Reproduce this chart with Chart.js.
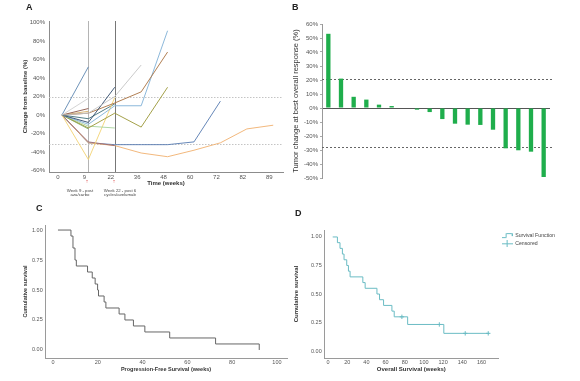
<!DOCTYPE html>
<html><head><meta charset="utf-8">
<script src="https://cdn.jsdelivr.net/npm/chart.js@4.4.1/dist/chart.umd.min.js"></script>
<style>
html,body{margin:0;padding:0;background:#fff;}
body{width:580px;height:381px;position:relative;overflow:hidden;font-family:"Liberation Sans",Arial,sans-serif;}
canvas{position:absolute;}
.lbl{position:absolute;font-weight:bold;color:#222;font-size:9px;line-height:9px;}
.note{position:absolute;font-size:4.3px;line-height:4.6px;color:#444;text-align:center;width:40px;white-space:nowrap;}
.arrow{position:absolute;font-size:5px;line-height:5px;color:#d62828;width:10px;text-align:center;}
</style></head><body>
<canvas id="cA" width="290" height="200" style="left:0;top:0"></canvas>
<canvas id="cB" width="290" height="200" style="left:290px;top:0"></canvas>
<canvas id="cC" width="290" height="181" style="left:0;top:200px"></canvas>
<canvas id="cD" width="290" height="181" style="left:290px;top:200px"></canvas>
<div class="lbl" style="left:26px;top:3px">A</div>
<div class="lbl" style="left:292px;top:3px">B</div>
<div class="lbl" style="left:36px;top:204px">C</div>
<div class="lbl" style="left:295px;top:209px">D</div>
<div class="arrow" style="left:82px;top:179px">↑</div>
<div class="arrow" style="left:109px;top:179px">↑</div>
<div class="note" style="left:60px;top:188.7px">Week 9 - post<br>aza/carbo</div>
<div class="note" style="left:100px;top:188.7px">Week 22 - post 6<br>cycles/avelumab</div>
<script>
// ---------- Panel A data (value at each assessment visit) ----------
const weeksA = [0, 9, 22, 36, 48, 60, 72, 82, 89];
const yTicksA = [-60, -40, -20, 0, 20, 40, 60, 80, 100];
const ptSteel   = [0, 52];
const ptGrey    = [0, 18];
const ptGrey2   = [0, 2, 20, 54];
const ptNavy    = [0, -8, 30];
const ptBrown   = [0, 2, 13, 25, 68];
const ptSky     = [0, -10, 10, 10, 91];
const ptOlive   = [0, -14, 2, -13, 30];
const ptPale    = [0, -12, -14];
const ptGold    = [0, -48, 19];
const ptMauve   = [0, -29, -33];
const ptOrange  = [0, -30, -33, -41, -45, -38, -30, -15, -11];
const ptBlue    = [0, -30, -32, -32, -32, -29, 15];
const ptMaroon  = [0, 7];
const ptTan     = [0, 4];
const ptTeal    = [0, -4, 12];
const ptGreen   = [0, -15];
const refWeekIdxA = [1, 2];          // vertical markers at week 9 and week 22
const refPctA = [20, -31];           // response thresholds

// ---------- Panel B data ----------
const patientsB = ['P1','P2','P3','P4','P5','P6','P7','P8','P9','P10','P11','P12','P13','P14','P15','P16','P17','P18'];
const changeB = [53, 21, 8, 6, 2.4, 1.4, 0, -1.2, -2.9, -7.9, -11.2, -11.9, -12.1, -15.5, -28.8, -30.2, -31.2, -49.3];
const yTicksB = [-50, -40, -30, -20, -10, 0, 10, 20, 30, 40, 50, 60];
const refPctB = [21, -27.6];

// ---------- Panel C data (PFS Kaplan-Meier) ----------
const pfsWeeks = [2.2, 8, 8.9, 9.8, 10.4, 15.4, 17.5, 18.8, 19.9, 20.3, 22.8, 23.6, 29.5, 32.1, 35.9, 41, 52.1, 72.6, 92.1];
const pfsSurv  = [1.00, 0.95, 0.85, 0.75, 0.70, 0.65, 0.60, 0.55, 0.50, 0.45, 0.40, 0.35, 0.30, 0.25, 0.20, 0.15, 0.10, 0.05, 0.00];
const xTicksC = [0, 20, 40, 60, 80, 100];
const survTicks = [0, 0.25, 0.5, 0.75, 1];

// ---------- Panel D data (OS Kaplan-Meier) ----------
const osWeeks = [4.9, 9.8, 12.5, 15, 16.7, 19.5, 21.3, 23, 36.3, 38.7, 51, 53.7, 57.9, 66.6, 69, 83, 120.7, 168];
const osSurv  = [1.00, 0.95, 0.90, 0.85, 0.80, 0.75, 0.70, 0.65, 0.60, 0.55, 0.50, 0.45, 0.40, 0.35, 0.30, 0.233, 0.155, 0.155];
const censWeeks = [77, 116, 143, 167];
const censSurv  = [0.30, 0.233, 0.155, 0.155];
const xTicksD = [0, 20, 40, 60, 80, 100, 120, 140, 160];

// ---------- styling ----------
Chart.defaults.font.family = '"Liberation Sans", Arial, sans-serif';
Chart.defaults.animation = false;
Chart.defaults.responsive = false;
Chart.defaults.devicePixelRatio = 1;
Chart.defaults.plugins.tooltip.enabled = false;

const seriesA = [
  {v: ptGrey2, c: '#c4c4c4'}, {v: ptGrey, c: '#cfcfcf'}, {v: ptSteel, c: '#5d87b1'},
  {v: ptNavy, c: '#2e4a6b'}, {v: ptBrown, c: '#a8703f'}, {v: ptSky, c: '#7fb0d6'},
  {v: ptOlive, c: '#9a9636'}, {v: ptPale, c: '#a7d39b'}, {v: ptGold, c: '#f3d272'},
  {v: ptMauve, c: '#9a6a73'}, {v: ptOrange, c: '#f0b06e'}, {v: ptBlue, c: '#5579b0'},
  {v: ptMaroon, c: '#8a5546'}, {v: ptTan, c: '#d6ae66'}, {v: ptTeal, c: '#3f6f78'},
  {v: ptGreen, c: '#7bb36e'}
];

function refLines(cfg) {
  return {
    id: 'refLines',
    beforeDatasetsDraw(chart) {
      const {ctx, chartArea: a, scales: {x, y}} = chart;
      ctx.save();
      ctx.lineWidth = 1;
      (cfg.vertical || []).forEach(l => {
        const px = Math.round(x.getPixelForValue(l.value)) + 0.5;
        ctx.strokeStyle = l.color; ctx.setLineDash(l.dash || []);
        ctx.beginPath(); ctx.moveTo(px, a.top); ctx.lineTo(px, a.bottom); ctx.stroke();
      });
      (cfg.horizontal || []).forEach(l => {
        const py = Math.round(y.getPixelForValue(l.value)) + 0.5;
        ctx.strokeStyle = l.color; ctx.setLineDash(l.dash || []);
        ctx.beginPath(); ctx.moveTo(a.left, py); ctx.lineTo(a.right + (l.extend || 0), py); ctx.stroke();
      });
      ctx.restore();
    }
  };
}
const tickFont = {size: 6};
const axisCol = '#8c8c8c';

// ---------- Panel A ----------
new Chart(document.getElementById('cA'), {
  type: 'line',
  data: {datasets: seriesA.map(s => ({
    data: s.v.map((val, i) => ({x: i, y: val})),
    borderColor: s.c, borderWidth: 0.9, pointRadius: 0, tension: 0, fill: false
  }))},
  options: {
    layout: {padding: {top: 21, right: 7, bottom: 0, left: 0}},
    plugins: {legend: {display: false}},
    scales: {
      x: {type: 'linear', min: -0.49, max: 8.37,
        afterBuildTicks: s => { s.ticks = weeksA.map((w, i) => ({value: i})); },
        ticks: {callback: v => weeksA[v], font: tickFont, color: '#555', padding: 2, labelOffset: -4, maxRotation: 0, autoSkip: false},
        grid: {display: false, drawTicks: false}, border: {color: axisCol},
        title: {display: true, text: 'Time (weeks)', font: {size: 6, weight: 'bold'}, color: '#333', padding: {top: 0, bottom: 12.7}},
        afterFit: s => { s.height = 28; }},
      y: {min: -61.5, max: 101.5,
        afterBuildTicks: s => { s.ticks = yTicksA.map(v => ({value: v})); },
        ticks: {callback: v => v + '%', font: tickFont, color: '#555', padding: 4},
        grid: {display: false, drawTicks: false}, border: {color: axisCol},
        title: {display: true, text: 'Change from baseline (%)', font: {size: 6, weight: 'bold'}, color: '#333', padding: {top: 21.4, bottom: 0}},
        afterFit: s => { s.width = 49; }}
    }
  },
  plugins: [refLines({
    vertical: [{value: refWeekIdxA[0], color: '#b4b4b4'}, {value: refWeekIdxA[1], color: '#777'}],
    horizontal: refPctA.map(v => ({value: v, color: '#c4c4c4', dash: [1.5, 1.5]}))
  })]
});

// ---------- Panel B ----------
new Chart(document.getElementById('cB'), {
  type: 'bar',
  data: {labels: patientsB, datasets: [{data: changeB, backgroundColor: '#1fae4c', barPercentage: 0.34, categoryPercentage: 1}]},
  options: {
    layout: {padding: {top: 24, right: 30, bottom: 22, left: 0}},
    plugins: {legend: {display: false}},
    scales: {
      x: {display: false, offset: true},
      y: {min: -50, max: 60,
        afterBuildTicks: s => { s.ticks = yTicksB.map(v => ({value: v})); },
        ticks: {callback: v => v + '%', font: tickFont, color: '#555', padding: 2},
        grid: {color: c => (c.tick && c.tick.value === 0) ? '#555' : 'rgba(0,0,0,0)', tickColor: '#aaa', tickLength: 2},
        border: {color: '#999'},
        title: {display: true, text: 'Tumor change at best overall response (%)', font: {size: 7.5}, color: '#333', padding: {top: 1.5, bottom: 0}},
        afterFit: s => { s.width = 32; }}
    }
  },
  plugins: [refLines({horizontal: refPctB.map(v => ({value: v, color: '#666', dash: [2, 2], extend: 3}))})]
});

// ---------- Panel C ----------
new Chart(document.getElementById('cC'), {
  type: 'line',
  data: {datasets: [{data: pfsWeeks.map((t, i) => ({x: t, y: pfsSurv[i]})), stepped: 'before',
    borderColor: '#666', borderWidth: 1, pointRadius: 0, fill: false}]},
  options: {
    layout: {padding: {top: 25, right: 3, bottom: 0, left: 0}},
    plugins: {legend: {display: false}},
    scales: {
      x: {type: 'linear', min: -3.6, max: 104.5,
        afterBuildTicks: s => { s.ticks = xTicksC.map(v => ({value: v})); },
        ticks: {font: {size: 5.5}, color: '#555', padding: 1, maxRotation: 0},
        grid: {display: false, drawTicks: false}, border: {color: '#9a9a9a'},
        title: {display: true, text: 'Progression-Free Survival (weeks)', font: {size: 5.5, weight: 'bold'}, color: '#333', padding: {top: 0, bottom: 8.7}},
        afterFit: s => { s.height = 23; }},
      y: {min: -0.067, max: 1.042,
        afterBuildTicks: s => { s.ticks = survTicks.map(v => ({value: v})); },
        ticks: {callback: v => v.toFixed(2), font: {size: 5.5}, color: '#555', padding: 2.3},
        grid: {display: false, drawTicks: false}, border: {color: '#9a9a9a'},
        title: {display: true, text: 'Cumulative survival', font: {size: 5.5, weight: 'bold'}, color: '#333', padding: {top: 21.7, bottom: 0}},
        afterFit: s => { s.width = 45; }}
    }
  }
});

// ---------- Panel D ----------
const teal = '#6bbcc4';
function icon(draw) {
  const c = document.createElement('canvas'); c.width = 11; c.height = 7;
  const g = c.getContext('2d'); g.strokeStyle = teal; g.lineWidth = 1; g.beginPath(); draw(g); g.stroke();
  return c;
}
const stepIcon = icon(g => { g.moveTo(0, 5.5); g.lineTo(4.5, 5.5); g.lineTo(4.5, 1.5); g.lineTo(10.5, 1.5); g.lineTo(10.5, 4); });
const censIcon = icon(g => { g.moveTo(0, 3.5); g.lineTo(11, 3.5); g.moveTo(5.5, 0); g.lineTo(5.5, 7); });
const legendIcons = [stepIcon, censIcon];

new Chart(document.getElementById('cD'), {
  type: 'line',
  data: {datasets: [
    {label: 'Survival Function', data: osWeeks.map((t, i) => ({x: t, y: osSurv[i]})), stepped: 'before',
      borderColor: teal, borderWidth: 1, pointRadius: 0, fill: false},
    {label: 'Censored', data: censWeeks.map((t, i) => ({x: t, y: censSurv[i]})), showLine: false,
      pointStyle: 'cross', pointRadius: 2.2, borderColor: teal, borderWidth: 1}
  ]},
  options: {
    layout: {padding: {top: 30, right: 15, bottom: 0, left: 0}},
    plugins: {legend: {position: 'right', align: 'start',
      labels: {font: {size: 5.2}, color: '#444', usePointStyle: true, pointStyleWidth: 11, padding: 3, boxHeight: 5,
        generateLabels: ch => Chart.defaults.plugins.legend.labels.generateLabels(ch).map((l, i) => Object.assign(l, {pointStyle: legendIcons[i]}))}}},
    scales: {
      x: {type: 'linear', min: -4.18, max: 177.8,
        afterBuildTicks: s => { s.ticks = xTicksD.map(v => ({value: v})); },
        ticks: {font: {size: 5.5}, color: '#555', padding: 1, maxRotation: 0},
        grid: {display: false, drawTicks: false}, border: {color: '#9a9a9a'},
        title: {display: true, text: 'Overall Survival (weeks)', font: {size: 6, weight: 'bold'}, color: '#333', padding: {top: 0, bottom: 8.4}},
        afterFit: s => { s.height = 23; }},
      y: {min: -0.061, max: 1.061,
        afterBuildTicks: s => { s.ticks = survTicks.map(v => ({value: v})); },
        ticks: {callback: v => v.toFixed(2), font: {size: 5.5}, color: '#555', padding: 2.3},
        grid: {display: false, drawTicks: false}, border: {color: '#9a9a9a'},
        title: {display: true, text: 'Cumulative survival', font: {size: 6, weight: 'bold'}, color: '#333', padding: {top: 2.4, bottom: 0}},
        afterFit: s => { s.width = 34; }}
    }
  }
});
</script>
</body></html>
